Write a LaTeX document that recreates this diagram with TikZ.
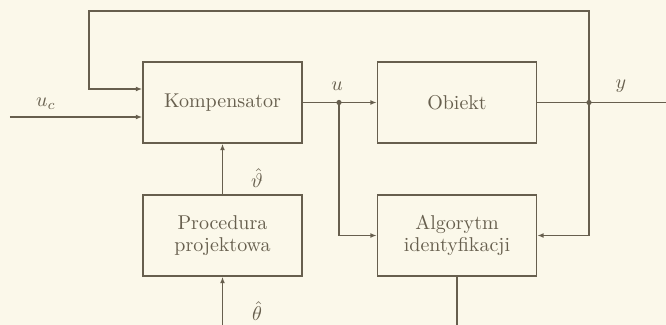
\documentclass[tikz,border=0pt]{standalone}
\usetikzlibrary{arrows.meta}
\definecolor{bg}{HTML}{FBF8EA}
\definecolor{ink}{HTML}{675F4E}
\begin{document}
\begin{tikzpicture}[x=0.5pt,y=-0.5pt, color=ink, line width=0.7pt,
  blok/.style={draw, minimum width=79.5pt, minimum height=40.5pt,
    inner sep=0pt, align=center, font=\normalsize,
    execute at begin node={\setlength{\baselineskip}{11pt}}},
  lab/.style={inner sep=0pt},
  arr/.style={-{Latex[length=3.2pt,width=2.4pt]}}]
\fill[bg] (0,0) rectangle (666,325);
\useasboundingbox (0,0) rectangle (666,325);

\node[blok] (komp) at (222.5,102.5) {Kompensator};
\node[blok] (obj)  at (457,102.5) {Obiekt};
\node[blok] (proc) at (222.5,235.5) {Procedura\\projektowa};
\node[blok] (alg)  at (457,235.5) {Algorytm\\identyfikacji};

\coordinate (uc) at (10,117);
\coordinate (ud) at (339,102.5);
\coordinate (yd) at (589,102.5);
\coordinate (yend) at (666,102.5);
\coordinate (tr) at (589,11);
\coordinate (tl) at (89,11);
\coordinate (thb) at (222.5,325);
\coordinate (ab) at (457,325);

\draw[arr] (uc) -- (uc -| komp.west);
\draw (komp.east) -- (ud);
\draw[arr] (ud) -- (obj.west);
\draw (obj.east) -- (yd) -- (yend);
\draw[arr] (yd) -- (tr) -- (tl) |- ([yshift=6.75pt]komp.west);
\draw[arr] (ud) |- (alg.west);
\draw[arr] (yd) |- (alg.east);
\draw[arr] (proc.north) -- (komp.south);
\draw[arr] (thb) -- (proc.south);
\draw (alg.south) -- (ab);

\fill (ud) circle (1.3pt);
\fill (yd) circle (1.3pt);

\node[lab] (luc) at (46,104) {$u_c$};
\node[lab] (lu) at (337,86) {$u$};
\node[lab] (ly) at (621,86) {$y$};
\node[lab] (lth) at (257,178) {$\hat{\vartheta}$};
\node[lab] (lTh) at (257,311) {$\hat{\theta}$};
\end{tikzpicture}
\end{document}
